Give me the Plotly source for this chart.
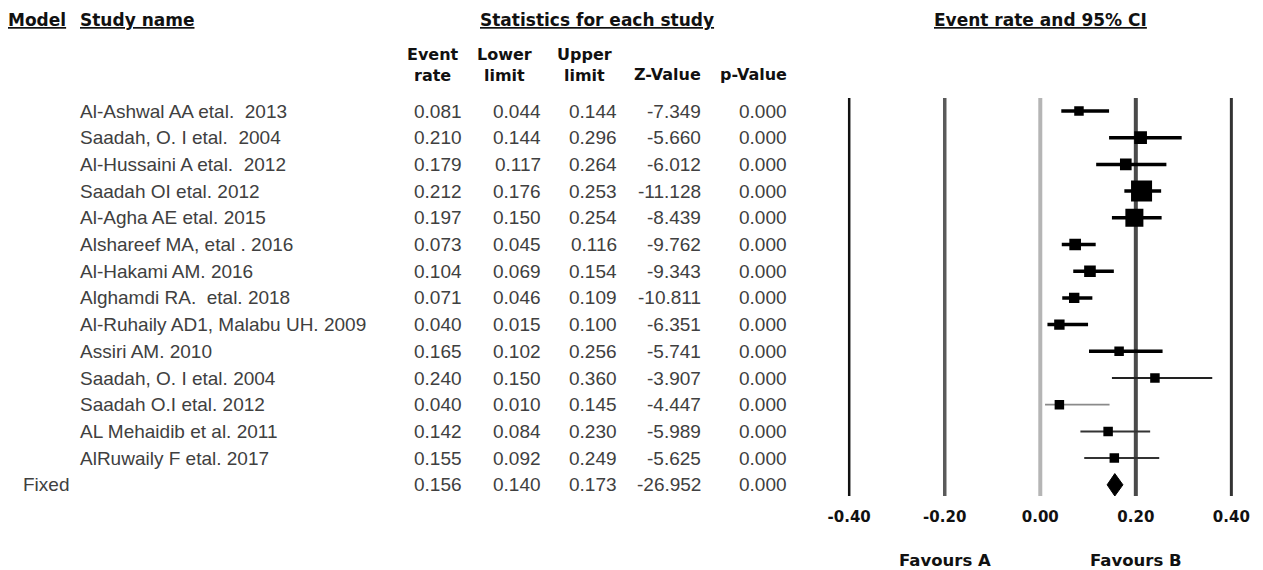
import plotly.graph_objects as go

# ---------------- data ----------------
studies = [
    "Al-Ashwal AA etal.  2013",
    "Saadah, O. I etal.  2004",
    "Al-Hussaini A etal.  2012",
    "Saadah OI etal. 2012",
    "Al-Agha AE etal. 2015",
    "Alshareef MA, etal . 2016",
    "Al-Hakami AM. 2016",
    "Alghamdi RA.  etal. 2018",
    "Al-Ruhaily AD1, Malabu UH. 2009",
    "Assiri AM. 2010",
    "Saadah, O. I etal. 2004",
    "Saadah O.I etal. 2012",
    "AL Mehaidib et al. 2011",
    "AlRuwaily F etal. 2017",
]
event_rate = [0.081, 0.210, 0.179, 0.212, 0.197, 0.073, 0.104, 0.071, 0.040, 0.165, 0.240, 0.040, 0.142, 0.155]
lower_limit = [0.044, 0.144, 0.117, 0.176, 0.150, 0.045, 0.069, 0.046, 0.015, 0.102, 0.150, 0.010, 0.084, 0.092]
upper_limit = [0.144, 0.296, 0.264, 0.253, 0.254, 0.116, 0.154, 0.109, 0.100, 0.256, 0.360, 0.145, 0.230, 0.249]
z_value = [-7.349, -5.660, -6.012, -11.128, -8.439, -9.762, -9.343, -10.811, -6.351, -5.741, -3.907, -4.447, -5.989, -5.625]
p_value = [0.000, 0.000, 0.000, 0.000, 0.000, 0.000, 0.000, 0.000, 0.000, 0.000, 0.000, 0.000, 0.000, 0.000]
rel_weight = [1.0, 1.8, 1.5, 4.9, 3.6, 1.5, 1.5, 1.2, 1.2, 1.0, 1.0, 1.0, 1.0, 1.0]

model_label = "Fixed"
fixed_rate = 0.156
fixed_lower = 0.140
fixed_upper = 0.173
fixed_z = -26.952
fixed_p = 0.000

tick_values = [-0.40, -0.20, 0.00, 0.20, 0.40]
tick_labels = ["-0.40", "-0.20", "0.00", "0.20", "0.40"]
favours_labels = ["Favours A", "Favours B"]
favours_pos = [-0.20, 0.20]

# ---------------- styles ----------------
W, H = 1263, 570
ROW0_PX, ROW_STEP = 111.0, 26.7
BODY = dict(family="Liberation Sans, Arial", size=19, color="#404040")
HEAD = dict(family="DejaVu Sans", size=17, color="#111111", weight="bold")
SUB = dict(family="DejaVu Sans", size=16, color="#111111", weight="bold")
LSHIFT = -13

def row_of(p):
    return (p - ROW0_PX) / ROW_STEP

def px(x):
    return x / W

def py(y):
    return 1 - y / H

n = len(studies)
fixed_row = n

fig = go.Figure()

# CI lines
ci_width = [3.5] * 10 + [2, 1.8, 2, 2]
ci_color = ["#000000"] * 10 + ["#222222", "#8a8a8a", "#333333", "#333333"]
for i in range(n):
    fig.add_trace(go.Scatter(
        x=[lower_limit[i], upper_limit[i]], y=[i, i], mode="lines",
        line=dict(color=ci_color[i], width=ci_width[i]), hoverinfo="skip"))

# boxes
fig.add_trace(go.Scatter(
    x=event_rate, y=list(range(n)), mode="markers",
    marker=dict(symbol="square", color="#000000", opacity=1,
                size=[9.5 * w ** 0.5 for w in rel_weight], line=dict(width=0)),
    hoverinfo="skip"))

# diamond for fixed effect
h = 0.42
fig.add_trace(go.Scatter(
    x=[fixed_lower, fixed_rate, fixed_upper, fixed_rate, fixed_lower],
    y=[fixed_row, fixed_row - h, fixed_row, fixed_row + h, fixed_row],
    mode="lines", fill="toself", fillcolor="black",
    line=dict(color="black", width=1), hoverinfo="skip"))

# vertical reference lines
vl_color = ["#111111", "#5a5a5a", "#b5b5b5", "#4a4a4a", "#333333"]
vl_width = [2.5, 3.5, 4, 4, 3]
for v, c, wdt in zip(tick_values, vl_color, vl_width):
    fig.add_shape(type="line", xref="x", yref="y", x0=v, x1=v,
                  y0=row_of(98), y1=row_of(496),
                  line=dict(color=c, width=wdt), layer="below")

ann = []
# headers
ann.append(dict(x=px(8), y=py(20), xanchor="left", xshift=LSHIFT, text="<u>Model</u>", font=HEAD))
ann.append(dict(x=px(81), y=py(20), xanchor="left", xshift=LSHIFT, text="<u>Study name</u>", font=HEAD))
ann.append(dict(x=px(595), y=py(20), xanchor="center", text="<u>Statistics for each study</u>", font=HEAD))
ann.append(dict(x=px(1045), y=py(20), xanchor="center", text="<u>Event rate and 95% CI</u>", font=HEAD))
ann.append(dict(x=px(428), y=py(65), xanchor="center", text="Event<br>rate", font=SUB))
ann.append(dict(x=px(501), y=py(65), xanchor="center", text="Lower<br>limit", font=SUB))
ann.append(dict(x=px(582), y=py(65), xanchor="center", text="Upper<br>limit", font=SUB))
ann.append(dict(x=px(703), y=py(75), xanchor="right", text="Z-Value", font=SUB))
ann.append(dict(x=px(790), y=py(75), xanchor="right", text="p-Value", font=SUB))

col_right = [460, 540, 617, 703, 790]

def add_row(r, name, name_x, vals):
    ann.append(dict(x=px(name_x), y=r, yref="y", xanchor="left", xshift=LSHIFT,
                    text=name, font=BODY))
    for xr, txt in zip(col_right, vals):
        ann.append(dict(x=px(xr), y=r, yref="y", xanchor="right", text=txt, font=BODY))

for i in range(n):
    add_row(i, studies[i], 81, [f"{event_rate[i]:.3f}", f"{lower_limit[i]:.3f}",
                                 f"{upper_limit[i]:.3f}", f"{z_value[i]:.3f}", f"{p_value[i]:.3f}"])
add_row(fixed_row, model_label, 23, [f"{fixed_rate:.3f}", f"{fixed_lower:.3f}",
                                      f"{fixed_upper:.3f}", f"{fixed_z:.3f}", f"{fixed_p:.3f}"])

for lab, pos in zip(favours_labels, favours_pos):
    ann.append(dict(x=pos, xref="x", y=py(560), xanchor="center", text=lab,
                    font=dict(family="DejaVu Sans", size=16.5, color="#111111", weight="bold")))

for a in ann:
    a.setdefault("xref", "paper")
    a.setdefault("yref", "paper")
    a.setdefault("yanchor", "middle")
    a["showarrow"] = False

# axis geometry: 0 at px 1045, 485 px per unit
d0, d1 = 840, 1250
x_lo, x_hi = (d0 - 1045) / 485.0, (d1 - 1045) / 485.0

fig.update_layout(
    width=W, height=H, margin=dict(l=0, r=0, t=0, b=0),
    paper_bgcolor="white", plot_bgcolor="white", showlegend=False,
    annotations=ann,
    xaxis=dict(domain=[px(d0), px(d1)], range=[x_lo, x_hi], showgrid=False,
               zeroline=False, showline=False, ticks="", anchor="free",
               position=py(506), tickvals=tick_values, ticktext=tick_labels,
               tickfont=dict(family="DejaVu Sans", size=15, color="#111111", weight="bold")),
    yaxis=dict(domain=[0, 1], range=[row_of(H), row_of(0)], visible=False),
)

fig.write_html("out.html", config={"displayModeBar": False},
               post_script="document.body.style.margin='0';document.body.style.overflow='hidden';")
